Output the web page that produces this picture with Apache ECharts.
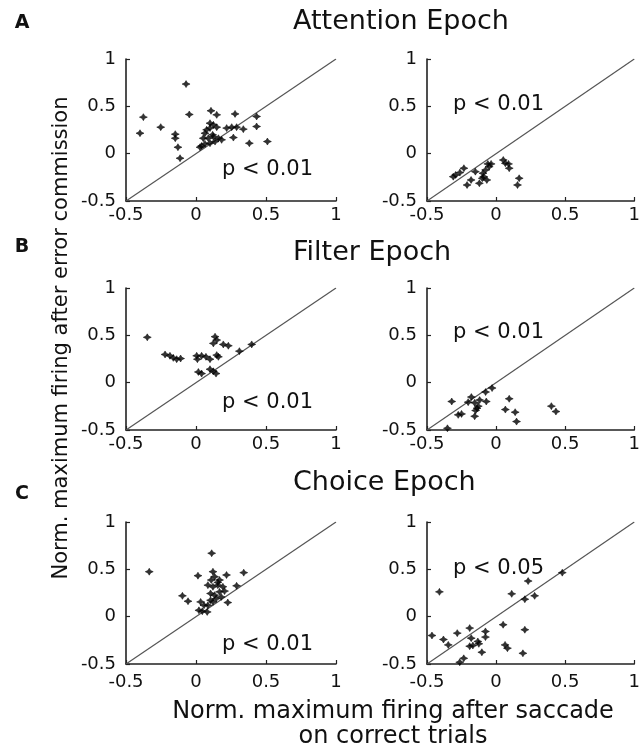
<!DOCTYPE html>
<html>
<head>
<meta charset="utf-8">
<script src="https://cdn.jsdelivr.net/npm/echarts@6/dist/echarts.min.js"></script>
<style>
  html, body { margin: 0; background: #fff; }
  #main { width: 643px; height: 753px; }
</style>
</head>
<body>
<div id="main"></div>
<script>
// axis ticks, shared by all six panels
const tickValues = [-0.5, 0, 0.5, 1]
const epochNames = ['Attention Epoch', 'Filter Epoch', 'Choice Epoch']
const panelLetters = ['A', 'B', 'C']
const pLabels = ['p < 0.01', 'p < 0.01', 'p < 0.01', 'p < 0.01', 'p < 0.01', 'p < 0.05']
const identityLine = [[-0.5, -0.5], [1, 1]]

// [firing on correct trials, firing after error] for each neuron
const attentionLeft = [
  [-0.071, 0.735], [-0.376, 0.386], [-0.40, 0.216], [-0.252, 0.280], [-0.148, 0.206],
  [-0.148, 0.163], [-0.129, 0.068], [-0.114, -0.048], [-0.048, 0.414], [0.107, 0.453],
  [0.148, 0.41], [0.279, 0.42], [0.433, 0.393], [0.433, 0.287], [0.338, 0.259],
  [0.267, 0.17], [0.381, 0.11], [0.51, 0.128], [0.219, 0.27], [0.255, 0.28],
  [0.29, 0.28], [0.124, 0.305], [0.1, 0.27], [0.076, 0.252], [0.064, 0.216],
  [0.052, 0.163], [0.088, 0.163], [0.124, 0.18], [0.16, 0.163], [0.136, 0.128],
  [0.1, 0.11], [0.064, 0.103], [0.04, 0.082], [0.029, 0.068], [0.148, 0.28],
  [0.1, 0.322], [0.183, 0.146], [0.119, 0.199]
]
const attentionRight = [
  [-0.293, -0.225], [-0.262, -0.2], [-0.233, -0.154], [-0.21, -0.331], [-0.181, -0.278],
  [-0.15, -0.19], [-0.121, -0.313], [-0.095, -0.207], [-0.09, -0.243], [-0.076, -0.172],
  [-0.067, -0.278], [-0.06, -0.108], [-0.036, -0.108], [-0.05, -0.137], [0.052, -0.067],
  [0.067, -0.102], [0.09, -0.108], [0.095, -0.154], [0.167, -0.26], [0.155, -0.331],
  [-0.31, -0.243], [-0.1, -0.26]
]
const filterLeft = [
  [-0.348, 0.479], [-0.221, 0.298], [-0.186, 0.284], [-0.162, 0.262], [-0.138, 0.248],
  [-0.11, 0.255], [0.005, 0.284], [0.01, 0.248], [0.04, 0.284], [0.071, 0.273],
  [0.1, 0.248], [0.148, 0.291], [0.16, 0.273], [0.136, 0.486], [0.124, 0.415],
  [0.148, 0.45], [0.195, 0.404], [0.231, 0.39], [0.31, 0.333], [0.398, 0.404],
  [0.017, 0.113], [0.04, 0.096], [0.1, 0.142], [0.124, 0.12], [0.143, 0.096]
]
const filterRight = [
  [-0.321, -0.199], [-0.274, -0.34], [-0.25, -0.33], [-0.202, -0.206], [-0.179, -0.152],
  [-0.155, -0.213], [-0.138, -0.27], [-0.148, -0.294], [-0.119, -0.184], [-0.155, -0.355],
  [-0.076, -0.099], [-0.071, -0.199], [-0.029, -0.057], [0.067, -0.284], [0.095, -0.17],
  [0.138, -0.312], [0.148, -0.411], [0.4, -0.248], [0.433, -0.305], [-0.352, -0.482],
  [-0.129, -0.248]
]
const choiceLeft = [
  [-0.334, 0.475], [0.112, 0.67], [0.014, 0.433], [0.341, 0.465], [0.218, 0.44],
  [0.121, 0.475], [0.133, 0.422], [0.168, 0.387], [0.085, 0.333], [0.121, 0.316],
  [0.156, 0.333], [0.192, 0.316], [0.29, 0.326], [-0.097, 0.22], [-0.057, 0.163],
  [0.033, 0.156], [0.057, 0.12], [0.021, 0.067], [0.08, 0.05], [0.104, 0.245],
  [0.133, 0.227], [0.168, 0.262], [0.144, 0.191], [0.18, 0.209], [0.121, 0.156],
  [0.227, 0.149], [0.156, 0.362], [0.109, 0.387], [0.204, 0.27], [0.085, 0.12],
  [0.045, 0.057], [0.104, 0.174]
]
const choiceRight = [
  [-0.41, 0.262], [-0.464, -0.199], [-0.381, -0.241], [-0.346, -0.298], [-0.281, -0.174],
  [-0.263, -0.482], [-0.234, -0.44], [-0.191, -0.121], [-0.18, -0.227], [-0.191, -0.312],
  [-0.168, -0.305], [-0.132, -0.262], [-0.125, -0.287], [-0.103, -0.376], [-0.077, -0.156],
  [-0.077, -0.216], [0.051, -0.085], [0.065, -0.298], [0.082, -0.333], [0.113, 0.241],
  [0.208, 0.184], [0.232, 0.376], [0.279, 0.22], [0.208, -0.138], [0.194, -0.387],
  [0.479, 0.465]
]
const panelData = [attentionLeft, attentionRight, filterLeft, filterRight, choiceLeft, choiceRight]

const FONT = 'DejaVu Sans'
const ink = '#111'
const rowTops = [59, 288, 522]
const colLefts = [126, 427]
const gridW = 210
const gridH = 142
const xLabelMargin = [5, 5, 9]
// where the p-value text sits (left edge, middle)
const pPos = [[222, 170], [453, 105], [222, 403], [453, 333], [222, 645], [453, 569]]
const titleY = [22, 253, 483]
const letterY = [23, 247, 494]

// small four-point star, like the printed markers
const star = 'path://M0,-10 L3.5,-3.5 L10,0 L3.5,3.5 L0,10 L-3.5,3.5 L-10,0 L-3.5,-3.5 Z'

var chart = echarts.init(document.getElementById('main'))

const grid = []
const xAxis = []
const yAxis = []
const series = []

const axisCommon = {
  type: 'value',
  min: -0.5,
  max: 1,
  interval: 0.5,
  splitLine: { show: false },
  axisLine: { show: true, onZero: false, lineStyle: { color: '#222', width: 1.6 } },
  axisTick: { show: true, inside: true, length: 4, lineStyle: { color: '#222', width: 1.2 } },
  axisLabel: {
    fontFamily: FONT,
    fontSize: 18,
    color: ink,
    formatter: v => (tickValues.indexOf(v) > -1 ? String(v) : '')
  }
}

panelData.forEach((pts, i) => {
  const row = Math.floor(i / 2)
  const col = i % 2
  grid.push({ left: colLefts[col], top: rowTops[row], width: gridW, height: gridH })
  xAxis.push(Object.assign({}, axisCommon, {
    gridIndex: i,
    axisLabel: Object.assign({}, axisCommon.axisLabel, { margin: xLabelMargin[row] })
  }))
  yAxis.push(Object.assign({}, axisCommon, {
    gridIndex: i,
    axisLabel: Object.assign({}, axisCommon.axisLabel, { margin: 10 })
  }))
  series.push({
    type: 'line',
    xAxisIndex: i,
    yAxisIndex: i,
    data: identityLine,
    symbol: 'none',
    silent: true,
    lineStyle: { color: '#555', width: 1.2 },
    z: 1
  })
  series.push({
    type: 'scatter',
    xAxisIndex: i,
    yAxisIndex: i,
    data: pts,
    symbol: star,
    symbolSize: [8, 7],
    itemStyle: { color: '#000', borderColor: '#000', borderWidth: 0.6 },
    z: 3
  })
})

const graphic = []
epochNames.forEach((name, r) => {
  graphic.push({
    type: 'text', x: 293, y: titleY[r],
    style: { text: name, font: '27px "' + FONT + '"', fill: ink, textAlign: 'left', textVerticalAlign: 'middle' }
  })
  graphic.push({
    type: 'text', x: 22, y: letterY[r],
    style: { text: panelLetters[r], font: 'bold 19px "' + FONT + '"', fill: ink, textAlign: 'center', textVerticalAlign: 'middle' }
  })
})
pLabels.forEach((t, i) => {
  graphic.push({
    type: 'text', x: pPos[i][0], y: pPos[i][1],
    style: { text: t, font: '21px "' + FONT + '"', fill: ink, textAlign: 'left', textVerticalAlign: 'middle' }
  })
})
graphic.push({
  type: 'text', x: 393, y: 712,
  style: { text: 'Norm. maximum firing after saccade', font: '24px "' + FONT + '"', fill: ink, textAlign: 'center', textVerticalAlign: 'middle' }
})
graphic.push({
  type: 'text', x: 393, y: 737,
  style: { text: 'on correct trials', font: '24px "' + FONT + '"', fill: ink, textAlign: 'center', textVerticalAlign: 'middle' }
})
graphic.push({
  type: 'text', x: 62, y: 338, rotation: Math.PI / 2,
  style: { text: 'Norm. maximum firing after error commission', font: '21px "' + FONT + '"', fill: ink, textAlign: 'center', textVerticalAlign: 'middle' }
})

chart.setOption({
  backgroundColor: '#fff',
  animation: false,
  grid,
  xAxis,
  yAxis,
  series,
  graphic
})
</script>
</body>
</html>
